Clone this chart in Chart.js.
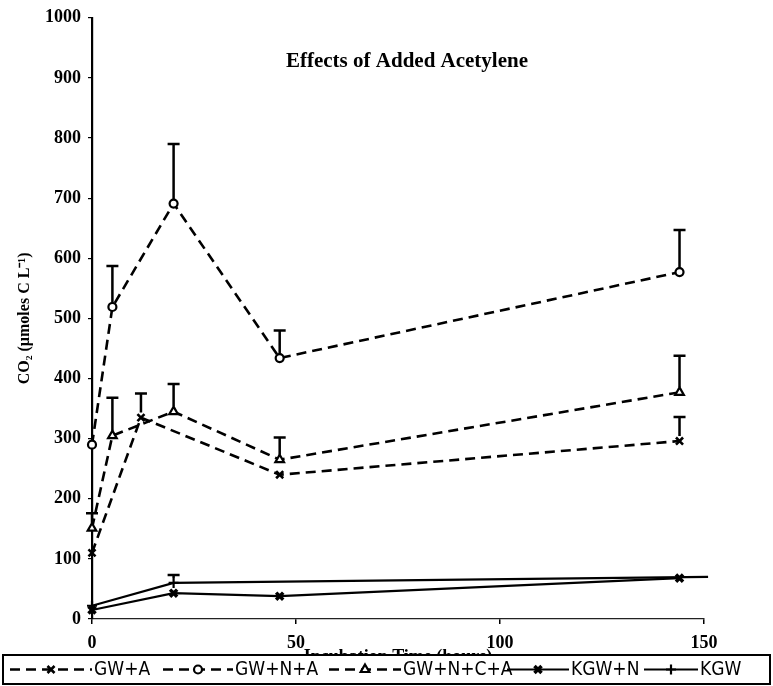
<!DOCTYPE html>
<html>
<head>
<meta charset="utf-8">
<title>Effects of Added Acetylene</title>
<script src="https://cdn.jsdelivr.net/npm/chart.js@4.4.1/dist/chart.umd.min.js"></script>
<style>
  html, body { margin: 0; padding: 0; background: #fff; }
  #wrap { width: 773px; height: 686px; }
</style>
</head>
<body>
<div id="wrap"><canvas id="co2Chart" width="773" height="686"></canvas></div>
<script>
"use strict";

/* ---- data: CO2 (umoles C/L) vs incubation time (hours) ---- */
const gwaHours   = [0, 12, 46, 144];
const gwaCO2     = [110, 335, 240, 296];
const gwaErr     = [null, 375, null, 336];

const gwnaHours  = [0, 5, 20, 46, 144];
const gwnaCO2    = [290, 519, 691, 434, 577];
const gwnaErr    = [null, 587, 790, 480, 647];

const gwncaHours = [0, 5, 20, 46, 144];
const gwncaCO2   = [151, 305, 345, 265, 377];
const gwncaErr   = [176, 368, 391, 302, 438];

const kgwnHours  = [0, 20, 46, 144];
const kgwnCO2    = [15, 43, 38, 68];

const kgwHours   = [0, 20, 151];
const kgwCO2     = [22, 60, 70];
const kgwErr     = [null, 73, null];

const xTicks = [0, 50, 100, 150];
const yTicks = [0, 100, 200, 300, 400, 500, 600, 700, 800, 900, 1000];

const SERIF = '"Liberation Serif", "Times New Roman", serif';

function pts(hours, vals) {
    return hours.map((h, i) => ({ x: h, y: vals[i] }));
}

function series(label, hours, vals, err, style) {
    return Object.assign({
        label: label,
        data: pts(hours, vals),
        errTop: err || null,
        borderColor: "#000",
        pointBorderColor: "#000",
        pointBackgroundColor: "#fff",
        tension: 0,
        clip: false
    }, style);
}

const dashed = { borderDash: [10, 6], borderWidth: 2.6 };
const solid  = { borderDash: [], borderWidth: 2.2 };

const datasets = [
    series("GW+A", gwaHours, gwaCO2, gwaErr,
        Object.assign({ pointStyle: "crossRot", markerSize: 5, pointRadius: 5, pointBorderWidth: 2.6 }, dashed)),
    series("GW+N+A", gwnaHours, gwnaCO2, gwnaErr,
        Object.assign({ pointStyle: "circle", markerSize: 4, pointRadius: 4, pointBorderWidth: 2.2 }, dashed)),
    series("GW+N+C+A", gwncaHours, gwncaCO2, gwncaErr,
        Object.assign({ pointStyle: "triangle", markerSize: 5, pointRadius: 5, pointBorderWidth: 2.2 }, dashed)),
    series("KGW+N", kgwnHours, kgwnCO2, null,
        Object.assign({ pointStyle: "crossRot", markerSize: 5, pointRadius: 5, pointBorderWidth: 3.5 }, solid)),
    // the KGW trace runs on past its last marker
    series("KGW", kgwHours, kgwCO2, kgwErr,
        Object.assign({ pointStyle: "cross", markerSize: 5, pointRadius: [5, 5, 0], pointBorderWidth: 2.2 }, solid))
];

/* vertical error bars (upper side only) with a flat cap */
const errorBars = {
    id: "errorBars",
    afterDatasetsDraw(chart) {
        const { ctx, scales: { x, y } } = chart;
        ctx.save();
        ctx.strokeStyle = "#000";
        ctx.lineWidth = 2.5;
        ctx.setLineDash([]);
        chart.data.datasets.forEach(ds => {
            if (!ds.errTop) return;
            ds.data.forEach((p, i) => {
                const top = ds.errTop[i];
                if (top == null) return;
                const px = x.getPixelForValue(p.x);
                const y0 = y.getPixelForValue(p.y) - ds.markerSize;
                const y1 = y.getPixelForValue(top);
                ctx.beginPath();
                ctx.moveTo(px, y0);
                ctx.lineTo(px, y1);
                ctx.moveTo(px - 6, y1);
                ctx.lineTo(px + 6, y1);
                ctx.stroke();
            });
        });
        ctx.restore();
    }
};

/* title sits inside the plot area */
const innerTitle = {
    id: "innerTitle",
    afterDraw(chart) {
        const ctx = chart.ctx;
        ctx.save();
        ctx.fillStyle = "#000";
        ctx.font = "bold 21px " + SERIF;
        ctx.textAlign = "center";
        ctx.textBaseline = "middle";
        ctx.fillText("Effects of Added Acetylene", 407, 62);
        ctx.restore();
    }
};

/* boxed legend strip along the bottom, line sample + marker + name */
const boxLegend = {
    id: "boxLegend",
    afterDraw(chart) {
        const ctx = chart.ctx;
        const left = 3, right = 770, top = 655, bottom = 684;
        const mid = (top + bottom) / 2;
        const slots = [[10, 92], [163, 233], [329, 401], [507, 569], [644, 698]];
        ctx.save();
        ctx.fillStyle = "#fff";
        ctx.fillRect(left, top, right - left, bottom - top);
        ctx.strokeStyle = "#000";
        ctx.lineWidth = 2;
        ctx.strokeRect(left, top, right - left, bottom - top);

        chart.data.datasets.forEach((ds, i) => {
            const [x0, x1] = slots[i];
            ctx.strokeStyle = "#000";
            ctx.lineWidth = ds.borderWidth;
            ctx.setLineDash(ds.borderDash);
            ctx.beginPath();
            ctx.moveTo(x0, mid);
            ctx.lineTo(x1, mid);
            ctx.stroke();
            ctx.setLineDash([]);
            ctx.fillStyle = "#fff";
            ctx.lineWidth = ds.pointBorderWidth;
            Chart.helpers.drawPoint(ctx, {
                pointStyle: ds.pointStyle,
                radius: ds.markerSize,
                rotation: 0,
                borderWidth: ds.pointBorderWidth
            }, (x0 + x1) / 2, mid);
            ctx.fillStyle = "#000";
            ctx.font = '19px "Liberation Sans Narrow", "DejaVu Sans Condensed", sans-serif';
            ctx.textAlign = "left";
            ctx.textBaseline = "middle";
            ctx.fillText(ds.label, x1 + 2, mid + 1);
        });
        ctx.restore();
    }
};

new Chart(document.getElementById("co2Chart"), {
    type: "line",
    data: { datasets: datasets },
    options: {
        responsive: false,
        animation: false,
        devicePixelRatio: 1,
        layout: { padding: { top: 16, right: 69, left: 0, bottom: 0 } },
        plugins: {
            legend: { display: false },
            tooltip: { enabled: false }
        },
        scales: {
            x: {
                type: "linear",
                min: 0,
                max: 150,
                afterBuildTicks: axis => { axis.ticks = xTicks.map(v => ({ value: v })); },
                afterFit: axis => { axis.height = 67; },
                border: { display: true, color: "#222", width: 1.2, dash: [7, 2, 1, 2] },
                grid: { drawOnChartArea: false, color: "#000", tickLength: 5, lineWidth: 1.5 },
                ticks: {
                    color: "#000",
                    padding: 9,
                    font: { family: SERIF, size: 18, weight: "bold" },
                    callback: v => String(v)
                },
                title: {
                    display: true,
                    text: "Incubation Time (hours)",
                    color: "#000",
                    font: { family: SERIF, size: 18, weight: "bold" },
                    padding: { top: 0, bottom: 18 }
                }
            },
            y: {
                type: "linear",
                min: 0,
                max: 1000,
                afterBuildTicks: axis => { axis.ticks = yTicks.map(v => ({ value: v })); },
                afterFit: axis => { axis.width = 92; },
                border: { display: true, color: "#000", width: 2.2 },
                grid: { drawOnChartArea: false, color: "#000", tickLength: 4, lineWidth: 1.2 },
                ticks: {
                    color: "#000",
                    padding: 7,
                    font: { family: SERIF, size: 18, weight: "bold" },
                    callback: v => String(v)
                },
                title: {
                    display: true,
                    text: "CO\u2082 (\u00b5moles C L\u207b\u00b9)",
                    color: "#000",
                    font: { family: SERIF, size: 16, weight: "bold" },
                    padding: { top: 15, bottom: 0 }
                }
            }
        }
    },
    plugins: [errorBars, innerTitle, boxLegend]
});
</script>
</body>
</html>
